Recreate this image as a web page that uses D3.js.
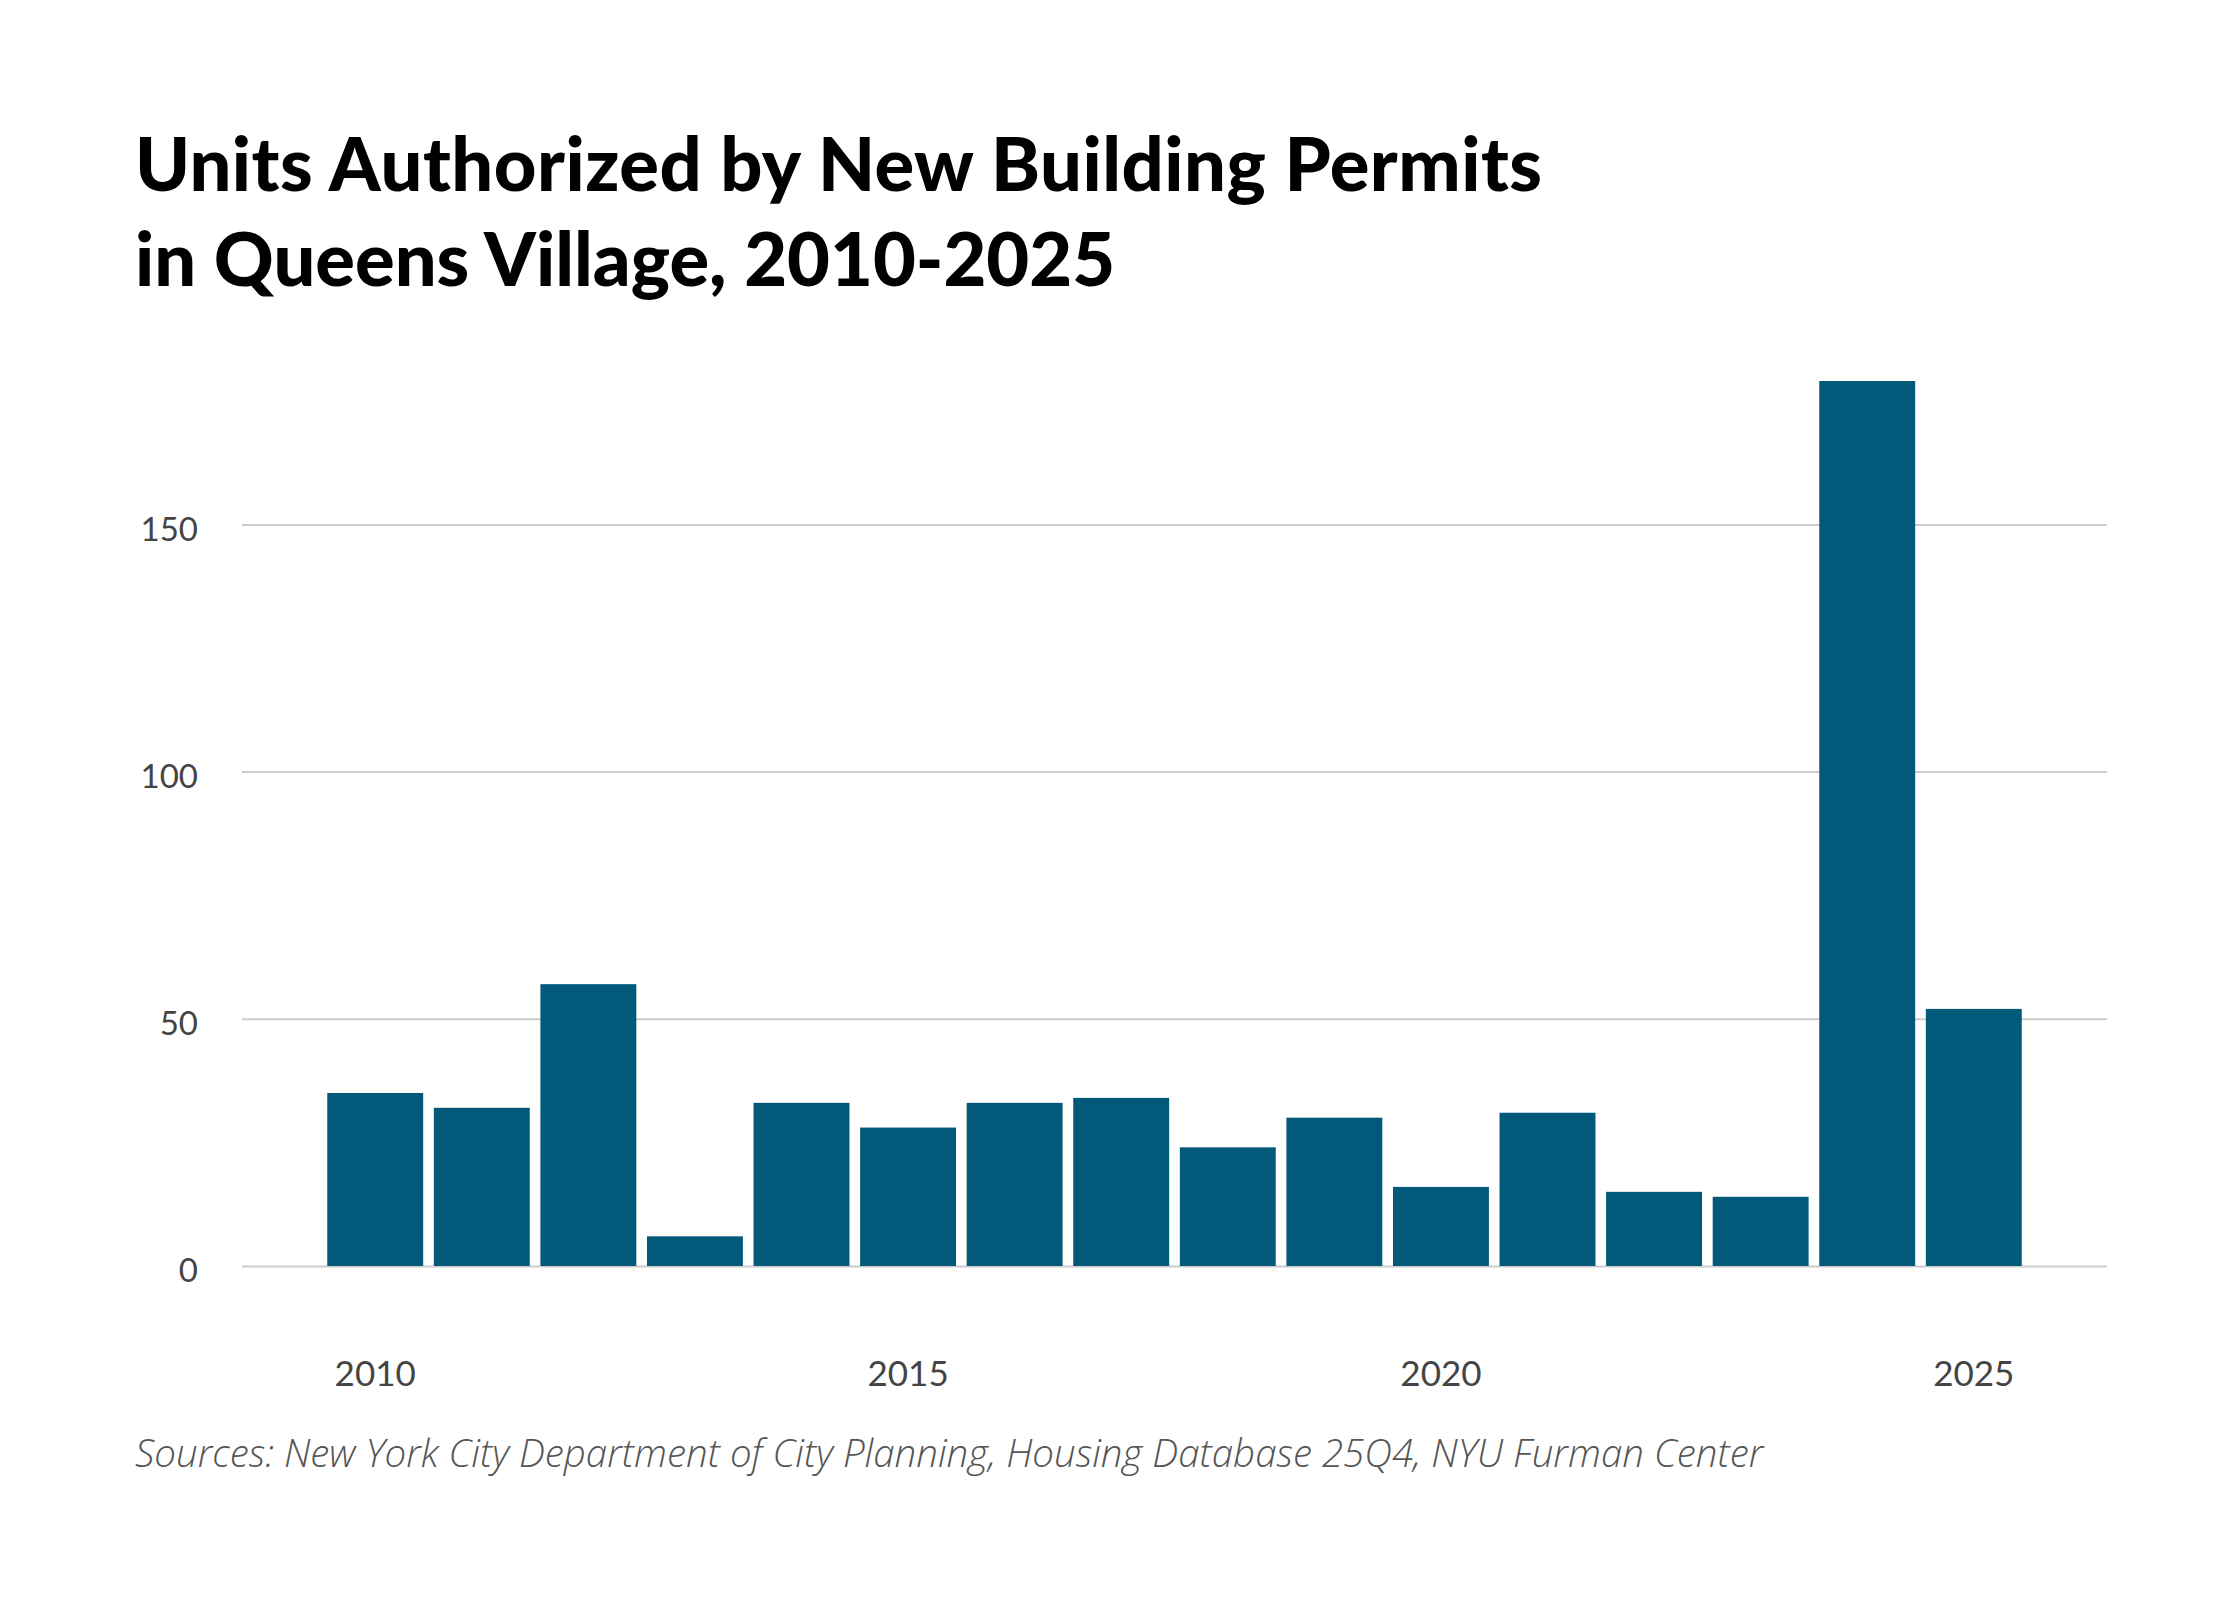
<!DOCTYPE html>
<html>
<head>
<meta charset="utf-8">
<script src="https://cdn.jsdelivr.net/npm/d3@7"></script>
<style>
  html, body { margin: 0; padding: 0; background: #ffffff; }
  svg { display: block; }
</style>
</head>
<body>
<svg id="chart" width="2240" height="1600"></svg>
<script>
// ---- data ----
const years = [2010, 2011, 2012, 2013, 2014, 2015, 2016, 2017, 2018, 2019, 2020, 2021, 2022, 2023, 2024, 2025];
const units = [35, 32, 57, 6, 33, 28, 33, 34, 24, 30, 16, 31, 15, 14, 179, 52];
const yTicks = [0, 50, 100, 150];
const xTickYears = [2010, 2015, 2020, 2025];
const titleLines = ["Units Authorized by New Building Permits", "in Queens Village, 2010-2025"];
const sourceText = "Sources: New York City Department of City Planning, Housing Database 25Q4, NYU Furman Center";

// ---- layout ----
const svg = d3.select("#chart");
const W = 2240, H = 1600;
const plot = { left: 242, right: 2107, top: 381, bottom: 1266 };

svg.append("rect").attr("width", W).attr("height", H).attr("fill", "#ffffff");

const x = d3.scaleBand()
  .domain(years)
  .range([plot.left, plot.right])
  .paddingInner(0.1)
  .paddingOuter(0.8);

const y = d3.scaleLinear()
  .domain([0, d3.max(units)])
  .range([plot.bottom, plot.top]);

// gridlines via axis
const yAxis = d3.axisLeft(y)
  .tickValues(yTicks)
  .tickSize(-(plot.right - plot.left))
  .tickPadding(44)
  .tickFormat(d3.format("d"));

const gy = svg.append("g")
  .attr("transform", `translate(${plot.left},0)`)
  .call(yAxis);
gy.select(".domain").remove();
gy.selectAll(".tick line").attr("stroke", "#cccccc").attr("stroke-width", 2);
gy.selectAll(".tick text")
  .attr("fill", "#444444")
  .attr("font-family", "Lato, 'Open Sans', sans-serif")
  .attr("font-size", 33)
  .attr("dy", "0.48em");

// bars
svg.append("g")
  .selectAll("rect")
  .data(years.map((yr, i) => ({ yr, v: units[i] })))
  .join("rect")
  .attr("x", d => x(d.yr))
  .attr("y", d => y(d.v))
  .attr("width", x.bandwidth())
  .attr("height", d => y(0) - y(d.v))
  .attr("fill", "#02597a");

// x axis
const xAxis = d3.axisBottom(x)
  .tickValues(xTickYears)
  .tickSize(0)
  .tickPadding(0)
  .tickFormat(d3.format("d"));
const gx = svg.append("g")
  .attr("transform", `translate(0,${plot.bottom})`)
  .call(xAxis);
gx.select(".domain").remove();
gx.selectAll(".tick text")
  .attr("fill", "#444444")
  .attr("font-family", "Lato, 'Open Sans', sans-serif")
  .attr("font-size", 35)
  .attr("y", 120)
  .attr("dy", 0);

// title
const title = svg.append("text")
  .attr("x", 135)
  .attr("y", 191)
  .attr("fill", "#000000")
  .attr("font-family", "Lato, sans-serif")
  .attr("font-weight", 900)
  .attr("font-size", 74);
title.selectAll("tspan")
  .data(titleLines)
  .join("tspan")
  .attr("x", 135)
  .attr("dy", (d, i) => i === 0 ? 0 : 95)
  .attr("letter-spacing", (d, i) => i === 0 ? 0.5 : 0)
  .text(d => d);

// source
svg.append("text")
  .attr("x", 135)
  .attr("y", 1467)
  .attr("fill", "#555555")
  .attr("font-family", "'Open Sans', sans-serif")
  .attr("font-weight", 300)
  .attr("font-style", "italic")
  .attr("font-size", 38.5)
  .text(sourceText);
</script>
</body>
</html>
